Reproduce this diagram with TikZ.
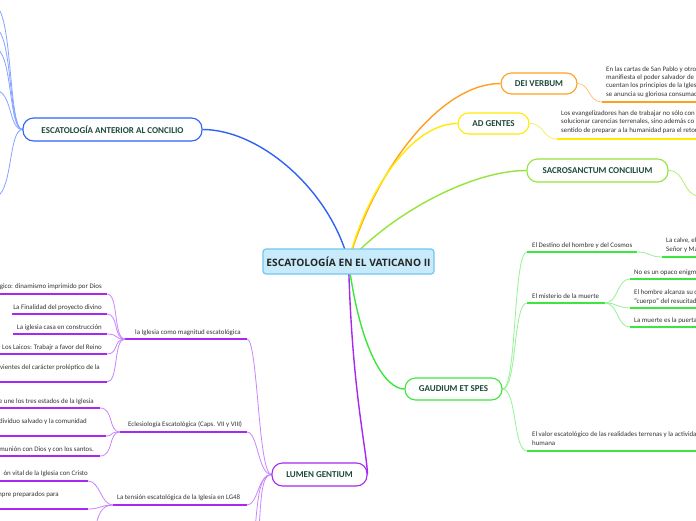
\documentclass[tikz,border=0pt]{standalone}
\usepackage{fontspec}
\setmainfont{Carlito}
\newfontfamily\cenfont{Open Sans}
\usetikzlibrary{backgrounds}
\definecolor{bluec}{HTML}{2F62F6}
\definecolor{bluel}{HTML}{86A4FF}
\definecolor{orangec}{HTML}{FFA01E}
\definecolor{orangel}{HTML}{FFC27A}
\definecolor{yellowc}{HTML}{FFEA00}
\definecolor{yellowl}{HTML}{F4F060}
\definecolor{limec}{HTML}{94E43A}
\definecolor{limel}{HTML}{B4EE70}
\definecolor{greenc}{HTML}{3DE63D}
\definecolor{greenl}{HTML}{96F296}
\definecolor{purplec}{HTML}{A628F2}
\definecolor{purplel}{HTML}{C985FF}
\definecolor{titlec}{HTML}{1D4A3B}
\definecolor{txtc}{HTML}{333333}
\definecolor{cenfill}{HTML}{C8EBFB}
\definecolor{cenborder}{HTML}{72C6EE}
\tikzset{
  mainbox/.style={draw, rounded corners=10.5pt, fill=white, line width=1.1pt,
    font=\bfseries\fontsize{9}{11}\selectfont, text=titlec, inner sep=0pt},
  cenbox/.style={draw=cenborder, fill=cenfill, rounded corners=3pt, line width=1.2pt,
    font=\cenfont\bfseries\fontsize{10.2}{12}\selectfont, text=black!85, inner sep=0pt,
    minimum width=171pt, minimum height=25pt},
  lbl/.style={font=\fontsize{6.9}{8.1}\selectfont, text=txtc, inner sep=0pt, align=left},
  conn/.style={line width=1.4pt},
  subconn/.style={line width=0.8pt},
  uline/.style={line width=1.7pt}
}
\begin{document}
\begin{tikzpicture}[x=1pt,y=-1pt]
\useasboundingbox (0,0) rectangle (696,520);
% main nodes
\node[cenbox] (c) at (348.5,261.5) {ESCATOLOGÍA EN EL VATICANO II};
\node[mainbox, draw=bluec, minimum width=179pt, minimum height=23pt] (esc) at (112.5,129.5) {ESCATOLOGÍA ANTERIOR AL CONCILIO};
\node[mainbox, draw=orangec, minimum width=76pt, minimum height=21pt] (dv) at (539,83.5) {DEI VERBUM};
\node[mainbox, draw=yellowc, minimum width=71pt, minimum height=21pt] (ag) at (493.5,123.5) {AD GENTES};
\node[mainbox, draw=limec, minimum width=141pt, minimum height=23pt] (sc) at (597.5,170.5) {SACROSANCTUM CONCILIUM};
\node[mainbox, draw=greenc, minimum width=97pt, minimum height=22pt] (gs) at (453.5,389) {GAUDIUM ET SPES};
\node[mainbox, draw=purplec, minimum width=95pt, minimum height=23pt] (lg) at (319.5,474.5) {LUMEN GENTIUM};

% coordinates (underline ends, off-canvas ends)
\coordinate (b1) at (-6,6); \coordinate (b2) at (-6,28); \coordinate (b3) at (-6,48);
\coordinate (b4) at (-6,90); \coordinate (b5) at (-6,197);
\coordinate (dva) at (602,102); \coordinate (dvb) at (700,102);
\coordinate (aga) at (557,139); \coordinate (agb) at (700,139);
\coordinate (sce) at (700,196);
\coordinate (d1a) at (527,252); \coordinate (d1b) at (637,252);
\coordinate (d2a) at (662,257); \coordinate (d2b) at (700,257);
\coordinate (m1a) at (527,303); \coordinate (m1b) at (605,303);
\coordinate (m2a) at (630,279); \coordinate (m2b) at (700,279);
\coordinate (m3a) at (630,308); \coordinate (m3b) at (700,308);
\coordinate (m4a) at (630,327); \coordinate (m4b) at (700,327);
\coordinate (v1a) at (527,451); \coordinate (v1b) at (700,451);
\coordinate (l1a) at (125,339); \coordinate (l1b) at (247,339);
\coordinate (l2a) at (120,432); \coordinate (l2b) at (247,432);
\coordinate (l3a) at (113,505); \coordinate (l3b) at (247,505);
\coordinate (l4) at (255,530); \coordinate (l5) at (259,530);
\coordinate (g1a) at (-6,294); \coordinate (g1b) at (107,294);
\coordinate (g2a) at (12,314); \coordinate (g2b) at (107,314);
\coordinate (g3a) at (13,334); \coordinate (g3b) at (107,334);
\coordinate (g4a) at (-6,354); \coordinate (g4b) at (107,354);
\coordinate (g5a) at (-6,382); \coordinate (g5b) at (107,382);
\coordinate (e1a) at (-6,408); \coordinate (e1b) at (100,408);
\coordinate (e2a) at (-6,436); \coordinate (e2b) at (106,436);
\coordinate (e3a) at (-6,456); \coordinate (e3b) at (100,456);
\coordinate (t1a) at (-6,481); \coordinate (t1b) at (88,481);
\coordinate (t2a) at (-6,509); \coordinate (t2b) at (88,509);
\coordinate (t3) at (95,530);

% texts right side (base = baseline of last line)
\node[lbl, anchor=base west] (dvt) at (606,96) {En las cartas de San Pablo y otro\\manifiesta el poder salvador de\\cuentan los principios de la Iglesi\\se anuncia su gloriosa consumac};
\node[lbl, anchor=base west] (agt) at (561,132) {Los evangelizadores han de trabajar no sólo con\\solucionar carencias terrenales, sino además co\\sentido de preparar a la humanidad para el retor};
\node[lbl, anchor=base west] (d1t) at (532,247) {El Destino del hombre y del Cosmos};
\node[lbl, anchor=base west] (d2t) at (666,251) {La calve, el\\Señor y Ma};
\node[lbl, anchor=base west] (m1t) at (532,298) {El misterio de la muerte};
\node[lbl, anchor=base west] (m2t) at (634,274) {No es un opaco enigm};
\node[lbl, anchor=base west] (m3t) at (634,303) {El hombre alcanza su c\\"cuerpo" del resucitad};
\node[lbl, anchor=base west] (m4t) at (634,322) {La muerte es la puerta};
\node[lbl, anchor=base west] (v1t) at (532,445) {El valor escatológico de las realidades terrenas y la activida\\humana};
% texts left side
\node[lbl, anchor=base west] (l1t) at (135,334) {la Iglesia como magnitud escatológica};
\node[lbl, anchor=base west] (l2t) at (128,426) {Eclesiología Escatológica (Caps. VII y VIII)};
\node[lbl, anchor=base west] (l3t) at (117,499) {La tensión escatológica de la Iglesia en LG48};
\node[lbl, anchor=base east] (g1t) at (102,288) {ógico: dinamismo imprimido por Dios};
\node[lbl, anchor=base east] (g2t) at (102,309) {La Finalidad del proyecto divino};
\node[lbl, anchor=base east] (g3t) at (102,329) {La iglesia casa en construcción};
\node[lbl, anchor=base east] (g4t) at (102,349) {Los Laicos: Trabajr a favor del Reino};
\node[lbl, anchor=base east] (g5t) at (100,369) {vientes del carácter proléptico de la};
\node[lbl, anchor=base east] (e1t) at (94,403) {e une los tres estados de la Iglesia};
\node[lbl, anchor=base east] (e2t) at (87,423) {dividuo salvado y la comunidad};
\node[lbl, anchor=base east] (e3t) at (94,451) {munión con Dios y con los santos.};
\node[lbl, anchor=base east] (t1t) at (88,475) {ón vital de la Iglesia con Cristo};
\node[lbl, anchor=base east] (t2t) at (59,496) {mpre preparados para};

\begin{pgfonlayer}{background}
\fill[white] (0,0) rectangle (696,520);
% main connectors
\draw[conn, bluec] (c.center) .. controls (330,190) and (260,129.5) .. (esc.east);
\draw[conn, orangec] (c.center) .. controls (375,170) and (440,83.5) .. (dv.west);
\draw[conn, yellowc] (c.center) .. controls (365,195) and (410,123.5) .. (ag.west);
\draw[conn, limec] (c.center) .. controls (390,215) and (470,170.5) .. (sc.west);
\draw[conn, greenc] (c.center) .. controls (360,350) and (385,389) .. (gs.west);
\draw[conn, purplec] (c.center) .. controls (352,390) and (366,445) .. (lg.east);
% blue sub
\foreach \p/\yy in {b1/6,b2/28,b3/48,b4/90,b5/197}
  \draw[subconn, bluel] (esc.west) .. controls (8,129.5) and (13,\yy) .. (\p);
% orange
\draw[subconn, orangel] (dv.east) .. controls (590,83.5) and (588,102) .. (dva);
\draw[uline, orangec] (dva) -- (dvb);
% yellow
\draw[subconn, yellowl] (ag.east) .. controls (545,123.5) and (542,139) .. (aga);
\draw[uline, yellowc] (aga) -- (agb);
% lime
\draw[subconn, limel] (sc.east) .. controls (686,170.5) and (682,196) .. (sce);
% green
\foreach \q/\yy in {d1a/252,m1a/303,v1a/451}
  \draw[subconn, greenl] (gs.east) .. controls (517,389) and (513,\yy) .. (\q);
\draw[uline, greenc] (d1a) -- (d1b);
\draw[subconn, greenl] (d1b) .. controls (650,252) and (649,257) .. (d2a);
\draw[uline, greenc] (d2a) -- (d2b);
\draw[uline, greenc] (m1a) -- (m1b);
\foreach \q/\yy in {m2a/279,m3a/308,m4a/327}
  \draw[subconn, greenl] (m1b) .. controls (618,303) and (617,\yy) .. (\q);
\draw[uline, greenc] (m2a) -- (m2b);
\draw[uline, greenc] (m3a) -- (m3b);
\draw[uline, greenc] (m4a) -- (m4b);
\draw[uline, greenc] (v1a) -- (v1b);
% purple
\foreach \q/\yy in {l1b/339,l2b/432,l3b/505}
  \draw[subconn, purplel] (lg.west) .. controls (258,474.5) and (258,\yy) .. (\q);
\draw[subconn, purplel] (lg.west) .. controls (260,474.5) and (258,495) .. (l4);
\draw[subconn, purplel] (lg.west) .. controls (262,474.5) and (261,495) .. (l5);
\draw[uline, purplec] (l1a) -- (l1b);
\draw[uline, purplec] (l2a) -- (l2b);
\draw[uline, purplec] (l3a) -- (l3b);
\foreach \q/\yy in {g1b/294,g2b/314,g3b/334,g4b/354,g5b/382}
  \draw[subconn, purplel] (l1a) .. controls (113,339) and (119,\yy) .. (\q);
\foreach \q/\yy in {e1b/408,e2b/436,e3b/456}
  \draw[subconn, purplel] (l2a) .. controls (108,432) and (114,\yy) .. (\q);
\foreach \q/\yy in {t1b/481,t2b/509}
  \draw[subconn, purplel] (l3a) .. controls (101,505) and (100,\yy) .. (\q);
\draw[subconn, purplel] (l3a) .. controls (101,505) and (98,515) .. (t3);
\draw[uline, purplec] (g1a) -- (g1b);
\draw[uline, purplec] (g2a) -- (g2b);
\draw[uline, purplec] (g3a) -- (g3b);
\draw[uline, purplec] (g4a) -- (g4b);
\draw[uline, purplec] (g5a) -- (g5b);
\draw[uline, purplec] (e1a) -- (e1b);
\draw[uline, purplec] (e2a) -- (e2b);
\draw[uline, purplec] (e3a) -- (e3b);
\draw[uline, purplec] (t1a) -- (t1b);
\draw[uline, purplec] (t2a) -- (t2b);
\end{pgfonlayer}
\end{tikzpicture}
\end{document}
